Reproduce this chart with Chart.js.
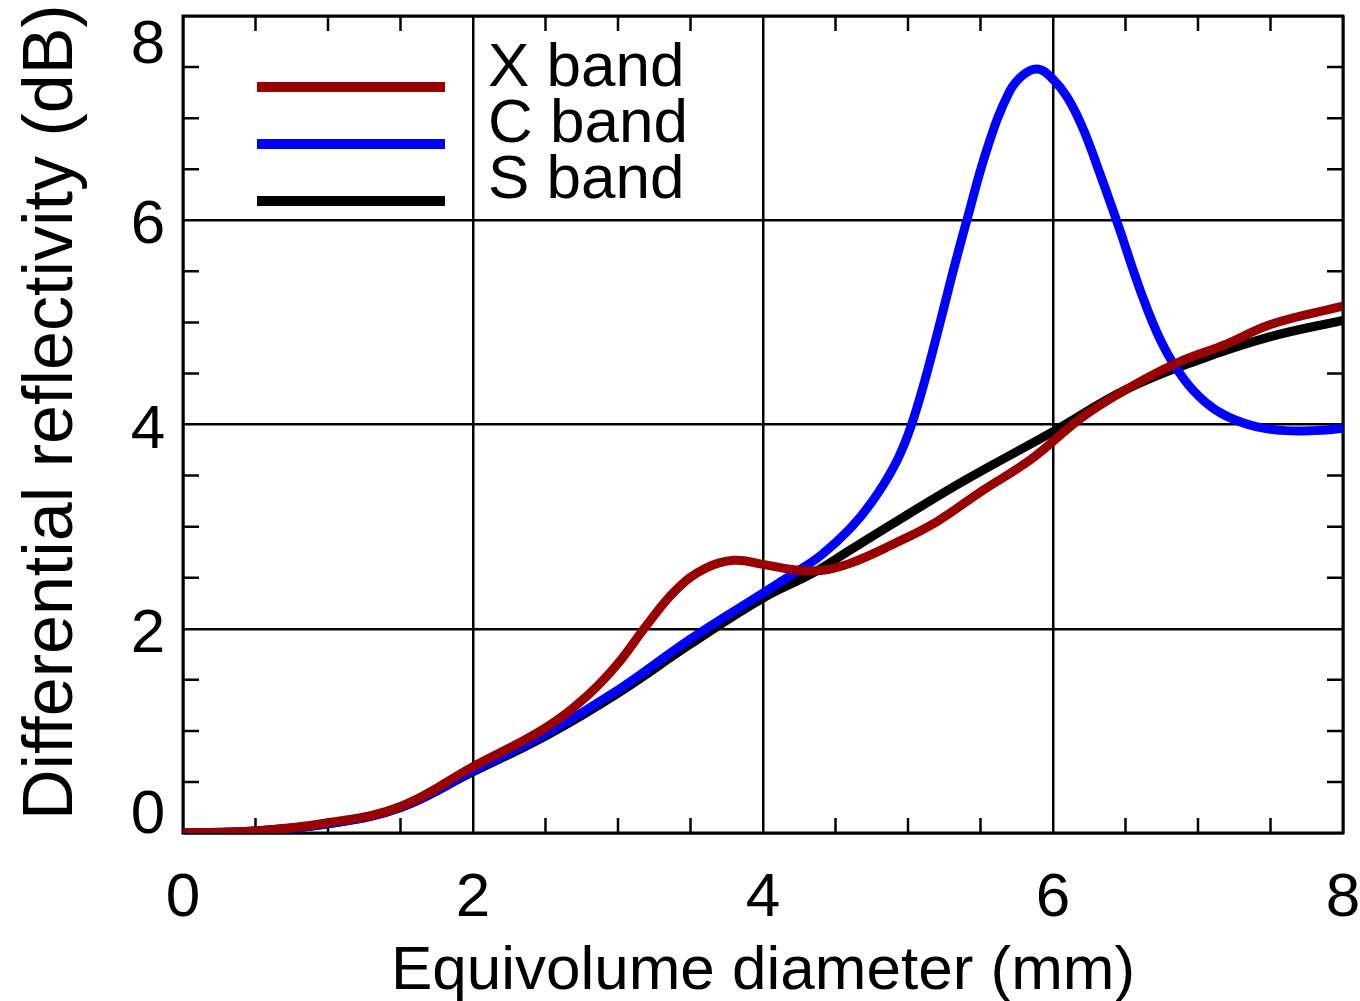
<!DOCTYPE html>
<html>
<head>
<meta charset="utf-8">
<script src="https://cdn.jsdelivr.net/npm/chart.js@4.4.1/dist/chart.umd.min.js"></script>
<style>
  html, body { margin: 0; padding: 0; background: #fff; }
  canvas { display: block; }
</style>
</head>
<body>
<canvas id="zdrChart" width="1360" height="1001"></canvas>
<script>
// equivolume diameter (mm) and differential reflectivity (dB)
const xBandD   = [0, 0.5, 1, 1.5, 2, 2.5, 2.8, 3.0, 3.2, 3.4, 3.6, 3.8, 4.0, 4.2, 4.4, 4.6, 4.9, 5.2, 5.5, 5.85, 6.2, 6.5, 6.85, 7.2, 7.5, 8.0];
const xBandZdr = [0, 0.02, 0.1, 0.26, 0.65, 1.03, 1.36, 1.66, 2.04, 2.38, 2.59, 2.67, 2.63, 2.58, 2.57, 2.64, 2.83, 3.05, 3.34, 3.66, 4.07, 4.34, 4.6, 4.79, 4.98, 5.16];

const cBandD   = [0, 0.5, 1, 1.5, 2, 2.5, 3, 3.5, 4, 4.2, 4.4, 4.6, 4.75, 4.9, 5.0, 5.1, 5.2, 5.3, 5.4, 5.55, 5.7, 5.8, 5.9, 6.0, 6.1, 6.2, 6.3, 6.45, 6.6, 6.75, 6.9, 7.05, 7.2, 7.4, 7.6, 7.8, 8.0];
const cBandZdr = [0, 0.02, 0.09, 0.25, 0.61, 0.97, 1.4, 1.9, 2.35, 2.53, 2.72, 2.98, 3.24, 3.58, 3.9, 4.35, 4.88, 5.44, 5.97, 6.72, 7.26, 7.43, 7.48, 7.38, 7.2, 6.92, 6.55, 5.95, 5.32, 4.8, 4.45, 4.22, 4.08, 3.98, 3.94, 3.94, 3.96];

const sBandD   = [0, 0.5, 1, 1.5, 2, 2.5, 3, 3.5, 4, 4.35, 4.6, 5.0, 5.4, 6.0, 6.5, 7.0, 7.5, 8.0];
const sBandZdr = [0, 0.02, 0.09, 0.25, 0.6, 0.95, 1.37, 1.85, 2.3, 2.55, 2.77, 3.12, 3.46, 3.93, 4.34, 4.63, 4.86, 5.02];

const seriesNames  = ['X band', 'C band', 'S band'];
const seriesColors = ['#990000', '#0000ff', '#000000'];
const xTicks = [0, 2, 4, 6, 8];
const yTicks = [0, 2, 4, 6, 8];

const FONT = '"Liberation Sans", Arial, Helvetica, sans-serif';

function pairs(xs, ys) {
  return xs.map((v, i) => ({ x: v, y: ys[i] }));
}

const curves = [pairs(xBandD, xBandZdr), pairs(cBandD, cBandZdr), pairs(sBandD, sBandZdr)];

// frame, inward minor ticks, tick labels, legend and axis titles
const axisLook = {
  id: 'axisLook',
  beforeDatasetsDraw(chart) {
    const { ctx, chartArea: a, scales: { x, y } } = chart;
    ctx.save();
    ctx.strokeStyle = '#000';
    ctx.lineWidth = 2.5;
    ctx.beginPath();
    for (let v = 0.5; v < 8; v += 0.5) {
      if (v % 2 === 0) continue;
      const px = x.getPixelForValue(v);
      ctx.moveTo(px, a.bottom); ctx.lineTo(px, a.bottom - 15);
      ctx.moveTo(px, a.top); ctx.lineTo(px, a.top + 15);
      const py = y.getPixelForValue(v);
      ctx.moveTo(a.left, py); ctx.lineTo(a.left + 16, py);
      ctx.moveTo(a.right, py); ctx.lineTo(a.right - 16, py);
    }
    ctx.stroke();
    ctx.lineWidth = 3;
    ctx.strokeRect(a.left, a.top, a.right - a.left, a.bottom - a.top);
    ctx.restore();
  },
  afterDraw(chart) {
    const { ctx, chartArea: a, scales: { x, y } } = chart;
    ctx.save();
    ctx.fillStyle = '#000';
    ctx.font = '62px ' + FONT;
    ctx.textAlign = 'center';
    ctx.textBaseline = 'alphabetic';
    xTicks.forEach(v => ctx.fillText(String(v), x.getPixelForValue(v), 916));
    yTicks.forEach(v => {
      const py = Math.min(Math.max(y.getPixelForValue(v), a.top + 24), a.bottom - 23);
      ctx.fillText(String(v), 148, py + 23);
    });

    // axis titles
    ctx.fillText('Equivolume diameter (mm)', (a.left + a.right) / 2, 989);
    ctx.save();
    ctx.translate(72, 820);
    ctx.rotate(-Math.PI / 2);
    ctx.textAlign = 'left';
    ctx.font = '70px ' + FONT;
    ctx.fillText('Differential reflectivity (dB)', 0, 0);
    ctx.restore();

    // legend
    ctx.textAlign = 'left';
    ctx.font = '62px ' + FONT;
    ctx.lineWidth = 10;
    seriesNames.forEach((name, i) => {
      const ly = 87 + i * 57;
      ctx.strokeStyle = seriesColors[i];
      ctx.beginPath();
      ctx.moveTo(257, ly);
      ctx.lineTo(445, ly);
      ctx.stroke();
      ctx.fillText(name, 488, ly - 1 - i);
    });
    ctx.restore();
  }
};

new Chart(document.getElementById('zdrChart'), {
  type: 'line',
  data: {
    datasets: seriesNames.map((name, i) => ({
      label: name,
      data: curves[i],
      borderColor: seriesColors[i],
      backgroundColor: seriesColors[i],
      borderWidth: 9,
      pointRadius: 0,
      tension: 0.4,
      fill: false
    }))
  },
  options: {
    responsive: false,
    animation: false,
    devicePixelRatio: 1,
    layout: { padding: { left: 183, top: 16, right: 17, bottom: 168 } },
    plugins: { legend: { display: false }, tooltip: { enabled: false } },
    scales: {
      x: {
        type: 'linear', min: 0, max: 8,
        ticks: { stepSize: 2, display: false },
        grid: { color: '#000', lineWidth: 2.5, drawTicks: false },
        border: { display: false }
      },
      y: {
        type: 'linear', min: 0, max: 8,
        ticks: { stepSize: 2, display: false },
        grid: { color: '#000', lineWidth: 2.5, drawTicks: false },
        border: { display: false }
      }
    }
  },
  plugins: [axisLook]
});
</script>
</body>
</html>
